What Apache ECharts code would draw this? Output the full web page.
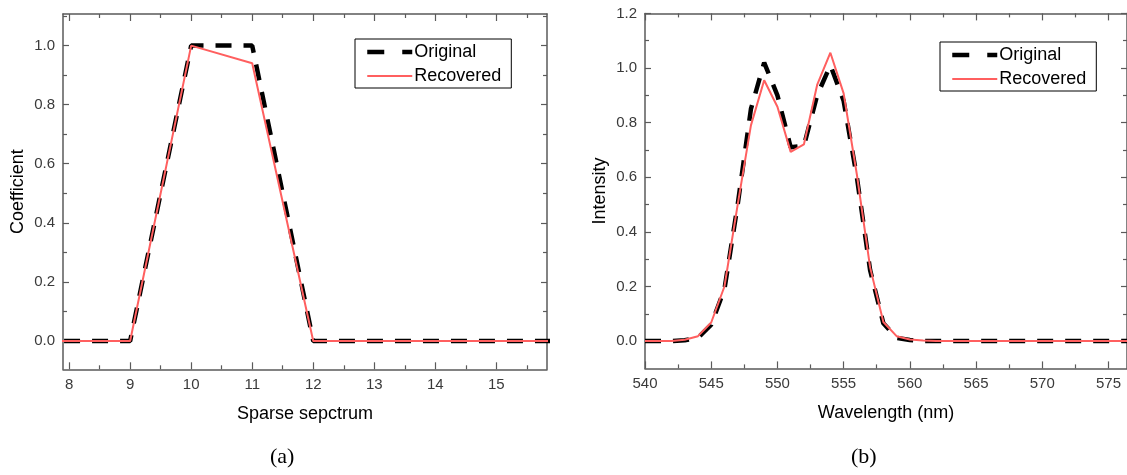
<!DOCTYPE html>
<html>
<head>
<meta charset="utf-8">
<script src="https://cdn.jsdelivr.net/npm/echarts@6/dist/echarts.min.js"></script>
<style>
    html, body { margin: 0; padding: 0; background: #fff; }
    #main { width: 1127px; height: 475px; }
</style>
</head>
<body>
<div id="main"></div>
<script>
// (a) sparse spectrum coefficients
var sparseX = [7, 8, 9, 10, 11, 12, 13, 14, 15, 16];
var sparseOriginal = [0, 0, 0, 1, 1, 0, 0, 0, 0, 0];
var sparseRecovered = [0, 0, 0, 1.0, 0.94, 0, 0, 0, 0, 0];

// (b) spectrum
var wavelength = [540, 541, 542, 543, 544, 545, 546, 547, 548, 549, 550, 551, 552, 553, 554, 555, 556, 557, 558, 559, 560,
    561, 562, 563, 564, 565, 566, 567, 568, 569, 570, 571, 572, 573, 574, 575, 576, 577, 578, 579, 580];
var intensityOriginal = [0, 0, 0, 0.003, 0.012, 0.06, 0.19, 0.5, 0.85, 1.02, 0.9, 0.71, 0.715, 0.9, 1.01, 0.88, 0.6, 0.26, 0.065, 0.012, 0.004,
    0, 0, 0, 0, 0, 0, 0, 0, 0, 0, 0, 0, 0, 0, 0, 0, 0, 0, 0, 0];
var intensityRecovered = [0, 0, 0, 0.005, 0.018, 0.068, 0.2, 0.5, 0.79, 0.955, 0.858, 0.693, 0.72, 0.938, 1.056, 0.907, 0.61, 0.27, 0.07, 0.018, 0.006,
    0.002, 0, 0, 0, 0, 0, 0, 0, 0, 0, 0, 0, 0, 0, 0, 0, 0, 0, 0, 0];

// tick positions
var sparseMajor = [8, 9, 10, 11, 12, 13, 14, 15];
var sparseMinor = [8.5, 9.5, 10.5, 11.5, 12.5, 13.5, 14.5, 15.5];
var coefMajor = [0, 0.2, 0.4, 0.6, 0.8, 1.0];
var coefMinor = [0.1, 0.3, 0.5, 0.7, 0.9, 1.1];
var waveMajor = [540, 545, 550, 555, 560, 565, 570, 575];
var waveMinor = [542.5, 547.5, 552.5, 557.5, 562.5, 567.5, 572.5];
var intensMajor = [0, 0.2, 0.4, 0.6, 0.8, 1.0, 1.2];
var intensMinor = [0.1, 0.3, 0.5, 0.7, 0.9, 1.1];

var FONT = 'Liberation Sans, Arial, sans-serif';
var FRAME = '#5a5a5a';

function pairs(xs, ys) {
    return xs.map(function (x, i) { return [x, ys[i]]; });
}

// 4 axes per direction: main (labels), main minor, mirror, mirror minor
function axisSet(isX, gridIndex, min, max, major, minor, name, fmt) {
    var pos = isX ? ['bottom', 'top'] : ['left', 'right'];
    var base = function (position, ticks, len, withLine, withLabel) {
        var ax = {
            type: 'value',
            gridIndex: gridIndex,
            min: min,
            max: max,
            position: position,
            axisLine: { show: withLine, onZero: false, lineStyle: { color: FRAME, width: 1.5 } },
            axisTick: { show: true, inside: true, length: len, customValues: ticks, lineStyle: { color: FRAME, width: 1.2 } },
            axisLabel: { show: withLabel, customValues: ticks, color: '#3a3a3a', fontFamily: FONT,
                fontSize: 15, margin: 8, formatter: fmt },
            splitLine: { show: false }
        };
        if (withLabel) {
            ax.name = name;
            ax.nameLocation = 'middle';
            ax.nameGap = 36;
            ax.nameTextStyle = { color: '#000', fontFamily: FONT, fontSize: 18 };
        }
        return ax;
    };
    return [
        base(pos[0], major, isX ? 7 : 6, true, true),
        base(pos[0], minor, 4, false, false),
        base(pos[1], major, isX ? 7 : 6, true, false),
        base(pos[1], minor, 4, false, false)
    ];
}

var fmtInt = function (v) { return String(v); };
var fmtOne = function (v) { return v.toFixed(1); };

var legendBase = {
    orient: 'vertical',
    data: [
        { name: 'Original', lineStyle: { width: 4.5, type: [17, 18] } },
        { name: 'Recovered', lineStyle: { width: 2 } }
    ],
    itemWidth: 45,
    itemHeight: 14,
    itemGap: 4,
    padding: [3, 10, 2, 10],
    borderColor: '#000',
    borderWidth: 1,
    itemStyle: { opacity: 0 },
    textStyle: { color: '#000', fontFamily: FONT, fontSize: 18, lineHeight: 20, padding: [0, 0, 0, -3] }
};

var originalStyle = { color: '#000', width: 4.5, type: [16, 12] };
var recoveredStyle = { color: '#ff5f5f', width: 2 };

var myChart = echarts.init(document.getElementById('main'));

var option = {
    backgroundColor: '#fff',
    animation: false,
    grid: [
        { left: 63, top: 14, width: 484, height: 355.3 },
        { left: 645, top: 13.4, width: 483, height: 355 }
    ],
    xAxis: [].concat(
        axisSet(true, 0, 7.9, 15.83, sparseMajor, sparseMinor, 'Sparse sepctrum', fmtInt),
        axisSet(true, 1, 540, 576.4, waveMajor, waveMinor, 'Wavelength (nm)', fmtInt)
    ),
    yAxis: [].concat(
        axisSet(false, 0, -0.096, 1.107, coefMajor, coefMinor, 'Coefficient', fmtOne),
        axisSet(false, 1, -0.1, 1.2, intensMajor, intensMinor, 'Intensity', fmtOne)
    ),
    legend: [
        Object.assign({}, legendBase, { left: 355, top: 39 }),
        Object.assign({}, legendBase, { left: 940, top: 42 })
    ],
    series: [
        {
            name: 'Original', type: 'line', xAxisIndex: 0, yAxisIndex: 0,
            data: pairs(sparseX, sparseOriginal), symbol: 'none', clip: true,
            lineStyle: originalStyle, itemStyle: { color: '#000' }
        },
        {
            name: 'Recovered', type: 'line', xAxisIndex: 0, yAxisIndex: 0,
            data: pairs(sparseX, sparseRecovered), symbol: 'none', clip: true,
            lineStyle: recoveredStyle, itemStyle: { color: '#ff5f5f' }
        },
        {
            name: 'Original', type: 'line', xAxisIndex: 4, yAxisIndex: 4,
            data: pairs(wavelength, intensityOriginal), symbol: 'none', clip: true,
            lineStyle: originalStyle, itemStyle: { color: '#000' }
        },
        {
            name: 'Recovered', type: 'line', xAxisIndex: 4, yAxisIndex: 4,
            data: pairs(wavelength, intensityRecovered), symbol: 'none', clip: true,
            lineStyle: recoveredStyle, itemStyle: { color: '#ff5f5f' }
        }
    ],
    graphic: [
        { type: 'text', left: 270, top: 446, style: { text: '(a)', fill: '#000', font: '22px "Liberation Serif", "Times New Roman", serif' } },
        { type: 'text', left: 851, top: 446, style: { text: '(b)', fill: '#000', font: '22px "Liberation Serif", "Times New Roman", serif' } }
    ]
};

myChart.setOption(option);
</script>
</body>
</html>
